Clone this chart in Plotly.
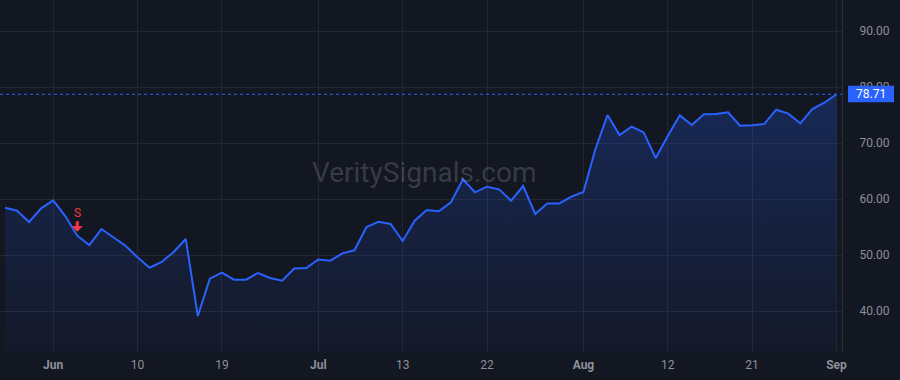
import plotly.graph_objects as go

dates = [
    "2020-05-26", "2020-05-27", "2020-05-28", "2020-05-29",
    "2020-06-01", "2020-06-02", "2020-06-03", "2020-06-04", "2020-06-05",
    "2020-06-08", "2020-06-09", "2020-06-10", "2020-06-11", "2020-06-12",
    "2020-06-15", "2020-06-16", "2020-06-17", "2020-06-18", "2020-06-19",
    "2020-06-22", "2020-06-23", "2020-06-24", "2020-06-25", "2020-06-26",
    "2020-06-29", "2020-06-30",
    "2020-07-01", "2020-07-02", "2020-07-06", "2020-07-07", "2020-07-08",
    "2020-07-09", "2020-07-10", "2020-07-13", "2020-07-14", "2020-07-15",
    "2020-07-16", "2020-07-17", "2020-07-20", "2020-07-21", "2020-07-22",
    "2020-07-23", "2020-07-24", "2020-07-27", "2020-07-28", "2020-07-29",
    "2020-07-30", "2020-07-31",
    "2020-08-03", "2020-08-04", "2020-08-05", "2020-08-06", "2020-08-07",
    "2020-08-10", "2020-08-11", "2020-08-12", "2020-08-13", "2020-08-14",
    "2020-08-17", "2020-08-18", "2020-08-19", "2020-08-20", "2020-08-21",
    "2020-08-24", "2020-08-25", "2020-08-26", "2020-08-27", "2020-08-28",
    "2020-08-31",
    "2020-09-01",
]

prices = [
    58.45, 57.91, 55.90, 58.34,
    59.77, 56.96, 53.45, 51.79, 54.64,
    53.10, 51.66, 49.58, 47.73, 48.75,
    50.54, 52.86, 39.11, 45.77, 46.84,
    45.60, 45.60, 46.79, 45.90, 45.42,
    47.60, 47.68,
    49.20, 48.99, 50.30, 50.84, 55.00,
    55.95, 55.54, 52.50, 56.13, 58.04,
    57.80, 59.40, 63.50, 61.20, 62.20,
    61.73, 59.70, 62.32, 57.32, 59.20,
    59.20, 60.42,
    61.25, 68.93, 75.00, 71.43, 72.92,
    71.90, 67.32, 71.25, 74.94, 73.21,
    75.12, 75.18, 75.48, 73.10, 73.16,
    73.39, 75.95, 75.24, 73.51, 76.07,
    77.20,
    78.71,
]

tick_dates = ["2020-06-01", "2020-06-10", "2020-06-19", "2020-07-01", "2020-07-13",
              "2020-07-22", "2020-08-03", "2020-08-12", "2020-08-21", "2020-09-01"]
tick_labels = ["<b>Jun</b>", "10", "19", "<b>Jul</b>", "13",
               "22", "<b>Aug</b>", "12", "21", "<b>Sep</b>"]

y_ticks = [40, 50, 60, 70, 80, 90]

signal_dates = ["2020-06-03"]
signal_texts = ["S"]

watermark = "VeritySignals.com"

BG = "#131722"
GRID = "#232732"
LINE = "#2962FF"
TEXT = "#8d909a"
RED = "#F23645"
FONT = "Roboto"

last_price = prices[-1]
y_range = [32.68, 95.54]

fig = go.Figure()
fig.add_trace(go.Scatter(
    x=dates, y=prices, mode="lines",
    line=dict(color=LINE, width=2),
    fill="tozeroy",
    fillgradient=dict(
        type="vertical",
        colorscale=[[0, "rgba(41,98,255,0.03)"], [1, "rgba(41,98,255,0.24)"]],
        start=y_range[0], stop=last_price,
    ),
    hoverinfo="skip",
))

# last price dotted line
fig.add_shape(type="line", xref="paper", x0=0, x1=1, yref="y", y0=last_price, y1=last_price,
              line=dict(color=LINE, width=1, dash="3px,3px"), layer="above")
# last price label box
fig.add_shape(type="rect", xref="paper", xsizemode="pixel", xanchor=1, x0=6, x1=52,
              yref="y", ysizemode="pixel", yanchor=last_price, y0=-8, y1=8.5,
              fillcolor=LINE, line=dict(width=0), layer="above")
fig.add_annotation(x=1, xref="paper", xanchor="center", xshift=29,
                   y=last_price, yref="y", yanchor="middle",
                   text=f"{last_price:.2f}", showarrow=False,
                   font=dict(family=FONT, size=12, color="#ffffff"))

# signal markers
for d, t in zip(signal_dates, signal_texts):
    v = prices[dates.index(d)]
    fig.add_annotation(x=d, y=v, xref="x", yref="y", text=t, showarrow=True,
                       arrowhead=1, arrowsize=0.62, arrowwidth=3, arrowcolor=RED,
                       ax=0, ay=-23, standoff=4,
                       font=dict(family=FONT, size=12, color=RED))

# watermark
fig.add_annotation(x=0.504, y=0.51, xref="paper", yref="paper", text=watermark,
                   showarrow=False, xanchor="center", yanchor="middle",
                   font=dict(family=FONT, size=28, color="rgba(255,255,255,0.16)"))

fig.update_layout(
    width=900, height=380,
    margin=dict(l=0, r=58, t=0, b=28),
    paper_bgcolor=BG, plot_bgcolor=BG,
    showlegend=False,
    font=dict(family=FONT, size=12, color=TEXT),
    xaxis=dict(
        type="category",
        range=[-0.415, 69.46],
        tickmode="array", tickvals=tick_dates, ticktext=tick_labels,
        showgrid=True, gridcolor=GRID, gridwidth=1,
        showline=False, zeroline=False, ticks="",
        tickfont=dict(family=FONT, size=12, color=TEXT),
        ticklabelstandoff=4,
    ),
    yaxis=dict(
        side="right",
        range=y_range,
        tickmode="array", tickvals=y_ticks,
        ticktext=[f"{v:.2f}" for v in y_ticks],
        showgrid=True, gridcolor=GRID, gridwidth=1,
        showline=True, linecolor="#2a2e39", linewidth=1,
        zeroline=False, ticks="",
        tickfont=dict(family=FONT, size=12, color=TEXT),
        ticklabelstandoff=14,
    ),
)

fig.write_html("out.html")
